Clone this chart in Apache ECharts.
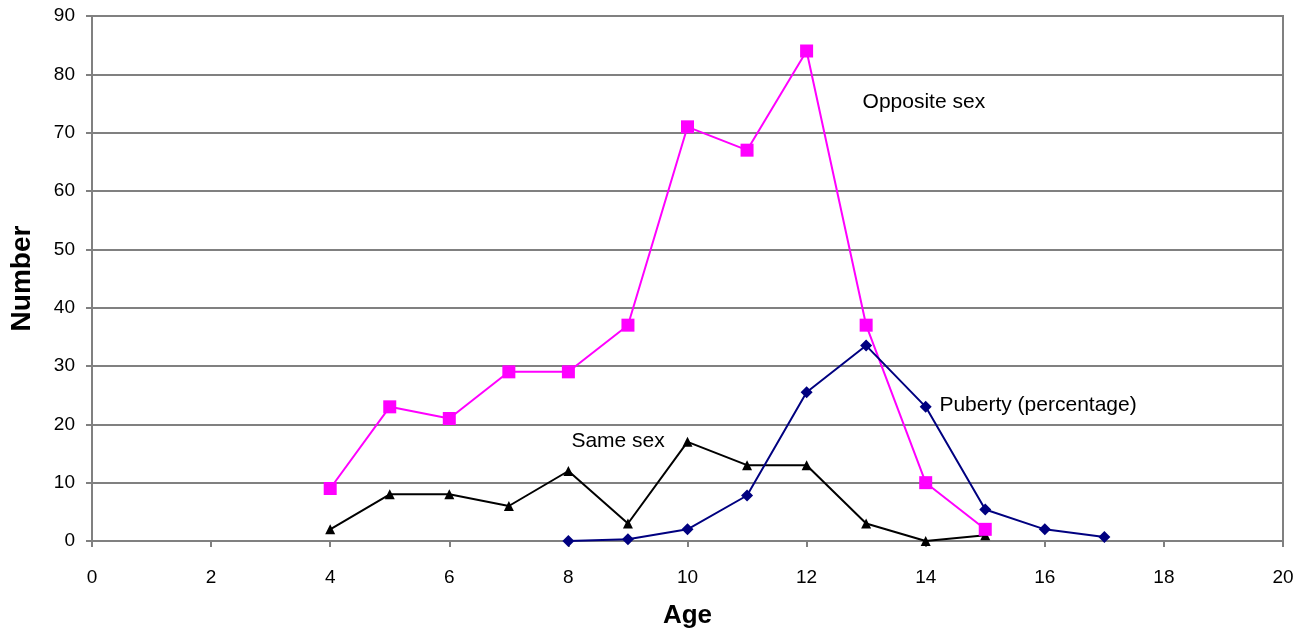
<!DOCTYPE html>
<html><head><meta charset="utf-8">
<script src="https://cdn.jsdelivr.net/npm/echarts@6/dist/echarts.min.js"></script>
<style>html,body{margin:0;padding:0;background:#fff}#c{width:1314px;height:636px}</style>
</head><body><div id="c"></div>
<script>
const ages = [4,5,6,7,8,9,10,11,12,13,14,15];
const oppositeSex = [9,23,21,29,29,37,71,67,84,37,10,2];
const sameSex = [2,8,8,6,12,3,17,13,13,3,0,1];
const pubertyAges = [8,9,10,11,12,13,14,15,16,17];
const puberty = [0,0.3,2,7.8,25.5,33.5,23,5.4,2,0.7];
const labels = [
  {text:'Opposite sex', at:[12.94, 75.3]},
  {text:'Same sex', at:[8.05, 17.1]},
  {text:'Puberty (percentage)', at:[14.23, 23.3]}
];
const pair = (xs, ys) => xs.map((x,i)=>[x, ys[i]]);
const chart = echarts.init(document.getElementById('c'));
const font = 'Liberation Sans, Arial, sans-serif';
chart.setOption({
  animation:false,
  grid:{left:91,right:31,top:16,bottom:95,show:true,borderColor:'#808080',borderWidth:2},
  xAxis:{type:'value',min:0,max:20,interval:2,
    name:'Age',nameLocation:'middle',nameGap:62,
    nameTextStyle:{fontFamily:font,fontWeight:'bold',fontSize:26,color:'#000'},
    axisLine:{lineStyle:{color:'#808080',width:2}},
    axisTick:{show:true,length:6,lineStyle:{color:'#808080',width:2}},
    axisLabel:{fontFamily:font,fontSize:19,color:'#000',margin:27},
    splitLine:{show:false}},
  yAxis:{type:'value',min:0,max:90,interval:10,
    name:'Number',nameLocation:'middle',nameGap:56,
    nameTextStyle:{fontFamily:font,fontWeight:'bold',fontSize:28,color:'#000'},
    axisLine:{show:true,lineStyle:{color:'#808080',width:2}},
    axisTick:{show:true,length:6,lineStyle:{color:'#808080',width:2}},
    axisLabel:{fontFamily:font,fontSize:19,color:'#000',margin:17},
    splitLine:{lineStyle:{color:'#808080',width:2}}},
  series:[
    {type:'line',name:'Opposite sex',data:pair(ages,oppositeSex),symbol:'rect',symbolSize:13,
      lineStyle:{color:'#FF00FF',width:2},itemStyle:{color:'#FF00FF'},z:3},
    {type:'line',name:'Same sex',data:pair(ages,sameSex),symbol:'triangle',symbolSize:10,
      lineStyle:{color:'#000',width:2},itemStyle:{color:'#000'},z:2},
    {type:'line',name:'Puberty',data:pair(pubertyAges,puberty),symbol:'diamond',symbolSize:12,
      lineStyle:{color:'#000080',width:2},itemStyle:{color:'#000080'},z:4}
  ]
});
chart.setOption({graphic: labels.map(l=>{
  const p = chart.convertToPixel({gridIndex:0}, l.at);
  return {type:'text',x:p[0],y:p[1],style:{text:l.text,fontFamily:font,fontSize:21,fill:'#000',
    verticalAlign:'middle'}};
})});
</script></body></html>
